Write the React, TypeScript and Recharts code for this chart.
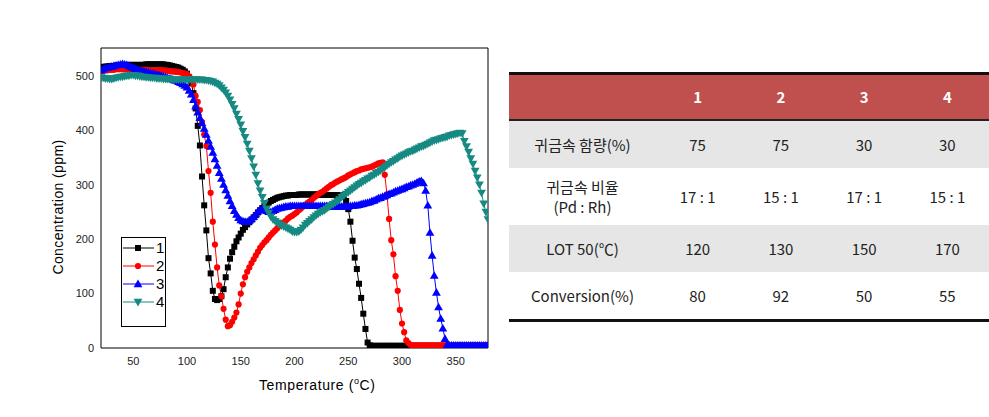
import { LineChart, Line, XAxis, YAxis, Legend, Label, ReferenceArea } from "recharts";

// temperatures (°C), one sample every 2 degrees
const temps = Array.from({ length: 181 }, (_, i) => 20 + i * 2);

const s1 = [
    516, 516, 517, 517, 518, 518, 518, 519, 519, 519, 519, 519, 520, 520, 520, 520, 520, 520, 520, 520,
    520, 521, 521, 521, 521, 521, 521, 521, 521, 521, 520, 520, 519, 518, 517, 516, 515, 513, 511, 508,
    504, 497, 486, 468, 440, 408, 372, 315, 262, 216, 165, 137, 105, 90, 88, 90, 95, 108, 130, 148,
    164, 176, 186, 196, 203, 210, 217, 222, 227, 231, 236, 240, 244, 249, 253, 257, 261, 264, 267, 270,
    272, 274, 276, 277, 278, 279, 280, 280, 281, 281, 281, 281, 282, 282, 282, 282, 282, 282, 282, 282,
    282, 282, 281, 281, 281, 281, 281, 281, 281, 281, 281, 281, 281, 279, 270, 255, 232, 197, 166, 145,
    118, 92, 63, 35, 10, 5, 4, 4, 4, 4, 4, 4, 4, 4, 4, 4, 4, 4, 4, 4,
    4, 4, 4, 4, 4, 4, 4, 4, 4, 4, 4, 4, 4, 4, 4, 4, 4, 4, 4, 4,
    4, 4, 4, 4, 4, 4, 4, 4, 4, 4, 4, 4, 4, 4, 4, 4, 4, 4, 4, 4,
    4,
];

const s2 = [
    508, 509, 510, 510, 511, 511, 511, 512, 512, 512, 512, 512, 512, 512, 512, 512, 511, 511, 511, 511,
    511, 511, 510, 510, 510, 510, 510, 510, 510, 510, 510, 509, 509, 508, 508, 507, 507, 506, 505, 504,
    503, 499, 494, 484, 463, 452, 437, 415, 392, 371, 325, 285, 232, 190, 148, 115, 95, 72, 52, 40,
    42, 48, 56, 65, 80, 100, 117, 130, 140, 148, 156, 163, 170, 177, 184, 189, 194, 198, 203, 208,
    212, 216, 220, 224, 228, 231, 234, 238, 241, 243, 246, 249, 253, 256, 260, 263, 266, 269, 272, 276,
    279, 282, 285, 287, 290, 293, 296, 299, 301, 304, 306, 308, 310, 312, 314, 317, 319, 321, 323, 325,
    326, 328, 329, 330, 331, 332, 333, 335, 337, 339, 340, 341, 318, 282, 237, 198, 172, 132, 105, 70,
    45, 29, 14, 9, 6, 5, 5, 5, 5, 5, 5, 5, 5, 5, 5, 5, 5, 5, 5, 5,
    5, 5, 5, 5, 5, 5, 5, 5, 5, 5, 5, 5, 5, 5, 5, 5, 5, 5, 5, 5,
    5,
];

const s3 = [
    510, 512, 514, 515, 516, 517, 518, 519, 520, 521, 522, 521, 520, 518, 516, 515, 513, 512, 510, 509,
    508, 507, 506, 505, 504, 503, 502, 501, 500, 499, 498, 496, 495, 494, 492, 491, 489, 487, 485, 482,
    479, 473, 466, 456, 444, 433, 423, 413, 403, 392, 381, 370, 359, 347, 335, 322, 311, 300, 290, 280,
    270, 261, 252, 245, 239, 235, 233, 232, 232, 234, 237, 241, 246, 251, 254, 255, 254, 252, 250, 250,
    252, 254, 256, 257, 258, 259, 260, 260, 261, 261, 261, 261, 261, 261, 261, 261, 261, 261, 261, 261,
    261, 261, 261, 261, 261, 261, 260, 260, 260, 260, 260, 260, 260, 260, 260, 260, 261, 261, 262, 262,
    263, 264, 265, 266, 267, 268, 270, 271, 273, 275, 276, 278, 279, 281, 283, 284, 286, 288, 289, 291,
    292, 294, 296, 297, 299, 300, 302, 304, 306, 307, 303, 289, 262, 212, 170, 133, 102, 75, 54, 36,
    17, 6, 5, 5, 5, 5, 5, 5, 5, 5, 5, 5, 5, 5, 5, 5, 5, 5, 5, 5,
    5,
];

const s4 = [
    497, 496, 495, 495, 494, 494, 495, 496, 497, 498, 498, 499, 500, 500, 501, 501, 500, 500, 499, 498,
    498, 497, 497, 496, 496, 496, 495, 495, 495, 494, 494, 494, 494, 493, 493, 493, 493, 493, 493, 493,
    493, 493, 493, 493, 493, 493, 493, 493, 492, 492, 491, 490, 489, 487, 485, 482, 478, 474, 469, 463,
    456, 448, 440, 430, 420, 410, 398, 387, 375, 362, 348, 333, 318, 302, 289, 277, 266, 256, 248, 241,
    236, 233, 230, 227, 225, 223, 221, 219, 217, 214, 213, 213, 214, 217, 221, 226, 229, 233, 236, 240,
    243, 246, 249, 251, 253, 256, 259, 262, 264, 267, 270, 273, 277, 280, 283, 286, 289, 292, 295, 298,
    301, 303, 306, 308, 311, 313, 316, 318, 321, 323, 326, 329, 332, 335, 338, 341, 343, 346, 348, 351,
    353, 355, 357, 359, 361, 362, 364, 366, 368, 370, 371, 373, 375, 377, 379, 381, 382, 383, 385, 386,
    387, 388, 390, 391, 392, 393, 394, 395, 394, 380, 370, 360, 348, 338, 325, 313, 300, 285, 265, 250,
    236,
];

const xTicks = [50, 100, 150, 200, 250, 300, 350];
const yTicks = [0, 100, 200, 300, 400, 500];

const seriesNames = ["1", "2", "3", "4"];
const seriesColors = ["#000000", "#ff0000", "#0000ff", "#168a82"];

// table values
const tableHead = ["1", "2", "3", "4"];
const rowLabels = ["귀금속 함량(%)", "귀금속 비율|(Pd : Rh)", "LOT 50(℃)", "Conversion(%)"];
const metalContent = ["75", "75", "30", "30"];
const metalRatio = ["17 : 1", "15 : 1", "17 : 1", "15 : 1"];
const lot50 = ["120", "130", "150", "170"];
const conversion = ["80", "92", "50", "55"];

const rows = temps.map((t, i) => ({ t, s1: s1[i], s2: s2[i], s3: s3[i], s4: s4[i] }));

const axisFont = "'Liberation Sans', Arial, sans-serif";
const tableFont = "'Noto Sans CJK KR', 'Noto Sans', sans-serif";

function Marker({ kind, cx, cy, color }: { kind: number; cx: number; cy: number; color: string }) {
    if (kind === 0) return <rect x={cx - 3} y={cy - 3} width={6} height={6} fill={color} />;
    if (kind === 1) return <circle cx={cx} cy={cy} r={3.1} fill={color} />;
    if (kind === 2)
        return <polygon points={`${cx},${cy - 4.4} ${cx + 4.4},${cy + 3.2} ${cx - 4.4},${cy + 3.2}`} fill={color} />;
    return <polygon points={`${cx},${cy + 4.4} ${cx + 4.4},${cy - 3.2} ${cx - 4.4},${cy - 3.2}`} fill={color} />;
}

const dotFor = (kind: number) => (props: any) => {
    const { cx, cy, index } = props;
    if (cx == null || cy == null) return <g key={index} />;
    return <Marker key={index} kind={kind} cx={cx} cy={cy} color={seriesColors[kind]} />;
};

function LegendBox() {
    return (
        <div style={{ width: 45, height: 90, border: "1px solid #000", boxSizing: "border-box", background: "#fff" }}>
            {seriesNames.map((n, k) => (
                <div key={n} style={{ display: "flex", alignItems: "center", height: 18, marginTop: k === 0 ? 1 : 0 }}>
                    <svg width={34} height={18}>
                        <line x1={1} x2={32} y1={9} y2={9} stroke={seriesColors[k]} strokeWidth={1} />
                        <Marker kind={k} cx={16} cy={9} color={seriesColors[k]} />
                    </svg>
                    <span style={{ fontFamily: axisFont, fontSize: 15, lineHeight: "18px", color: "#000" }}>{n}</span>
                </div>
            ))}
        </div>
    );
}

const XLabel = (props: any) => {
    const { x, y } = props.viewBox;
    return (
        <text x={x + 158} y={y + 42} fontFamily={axisFont} fontSize={14} fill="#000" letterSpacing={0.6}>
            Temperature (
            <tspan fontSize={9} dy={-6}>o</tspan>
            <tspan dy={6}>C)</tspan>
        </text>
    );
};

const YLabel = (props: any) => {
    const { x, y } = props.viewBox;
    const cx = x - 13;
    const cy = y + 159;
    return (
        <text x={cx} y={cy} transform={`rotate(-90 ${cx} ${cy})`} textAnchor="middle" dominantBaseline="central"
            fontFamily={axisFont} fontSize={14} fill="#000" letterSpacing={0.4}>
            Concentration (ppm)
        </text>
    );
};

function DataTable() {
    const cols = [metalContent, metalRatio, lot50, conversion];
    const rowHeights = [47, 57, 47, 47];
    const cell = (w: number, h: number, bold = false, color = "#222"): React.CSSProperties => ({
        width: w, height: h, display: "flex", alignItems: "center", justifyContent: "center",
        textAlign: "center", fontFamily: tableFont, fontSize: 15, color, fontWeight: bold ? 700 : 400, lineHeight: "20px",
    });
    return (
        <div style={{ position: "absolute", left: 509, top: 72, width: 480 }}>
            <div style={{ borderTop: "3px solid #111", borderBottom: "2px solid #222", background: "#c0504d", display: "flex" }}>
                <div style={cell(147, 44)} />
                {tableHead.map((h) => (
                    <div key={h} style={cell(83.25, 44, true, "#fff")}>{h}</div>
                ))}
            </div>
            {rowLabels.map((lab, r) => (
                <div key={lab} style={{ display: "flex", background: r % 2 === 0 ? "#e6e6e6" : "#fff" }}>
                    <div style={cell(147, rowHeights[r])}>
                        <div>{lab.split("|").map((p) => <div key={p} style={{ height: 20 }}>{p}</div>)}</div>
                    </div>
                    {cols[r].map((v, c) => (
                        <div key={c} style={cell(83.25, rowHeights[r])}>{v}</div>
                    ))}
                </div>
            ))}
            <div style={{ borderTop: "3px solid #111" }} />
        </div>
    );
}

export default function App() {
    return (
        <div style={{ position: "absolute", left: 0, top: 0, width: 989, height: 417, background: "#fff" }}>
            <LineChart width={500} height={417} data={rows} margin={{ top: 48, right: 12, bottom: 39, left: 71 }}>
                <XAxis dataKey="t" type="number" domain={[20, 380]} ticks={xTicks} allowDataOverflow height={30}
                    axisLine={false} tickLine={false} tickSize={6} tickMargin={3}
                    tick={{ fontSize: 11, fill: "#222", fontFamily: axisFont }}>
                    <Label content={XLabel} />
                </XAxis>
                <YAxis type="number" domain={[0, 551]} ticks={yTicks} allowDataOverflow width={30}
                    axisLine={false} tickLine={false} tickSize={5} tickMargin={2}
                    tick={{ fontSize: 11, fill: "#222", fontFamily: axisFont }}>
                    <Label content={YLabel} />
                </YAxis>
                <ReferenceArea x1={20} x2={380} y1={0} y2={551} fill="none" stroke="#000" strokeWidth={1} />
                <Line dataKey="s1" name="1" stroke={seriesColors[0]} strokeWidth={1} dot={dotFor(0)} isAnimationActive={false} />
                <Line dataKey="s2" name="2" stroke={seriesColors[1]} strokeWidth={1} dot={dotFor(1)} isAnimationActive={false} />
                <Line dataKey="s3" name="3" stroke={seriesColors[2]} strokeWidth={1} dot={dotFor(2)} isAnimationActive={false} />
                <Line dataKey="s4" name="4" stroke={seriesColors[3]} strokeWidth={1} dot={dotFor(3)} isAnimationActive={false} />
                <Legend layout="vertical" align="center" verticalAlign="middle" content={LegendBox}
                    wrapperStyle={{ position: "absolute", left: 121, top: 237, width: 45, height: 90 }} />
            </LineChart>
            <DataTable />
        </div>
    );
}
